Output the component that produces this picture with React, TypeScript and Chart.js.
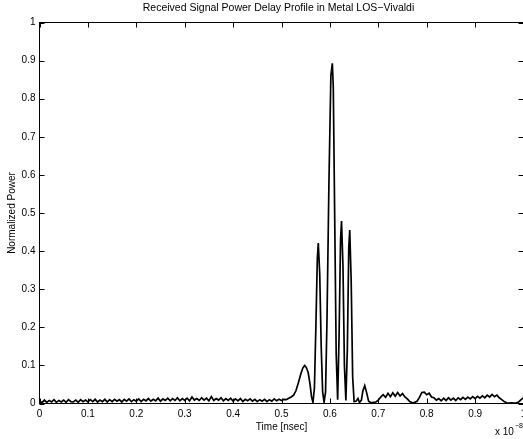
import React, { useEffect, useRef } from "react";
import { Chart, registerables } from "chart.js";

Chart.register(...registerables);

// Time in units of 1e-8 s (axis shows "x 10^-8")
const timeValues = [
  0.000, 0.005, 0.010, 0.015, 0.020, 0.025, 0.030, 0.035, 0.040, 0.045,
  0.050, 0.055, 0.060, 0.065, 0.070, 0.075, 0.080, 0.085, 0.090, 0.095,
  0.100, 0.105, 0.110, 0.115, 0.120, 0.125, 0.130, 0.135, 0.140, 0.145,
  0.150, 0.155, 0.160, 0.165, 0.170, 0.175, 0.180, 0.185, 0.190, 0.195,
  0.200, 0.205, 0.210, 0.215, 0.220, 0.225, 0.230, 0.235, 0.240, 0.245,
  0.250, 0.255, 0.260, 0.265, 0.270, 0.275, 0.280, 0.285, 0.290, 0.295,
  0.300, 0.305, 0.310, 0.315, 0.320, 0.325, 0.330, 0.335, 0.340, 0.345,
  0.350, 0.355, 0.360, 0.365, 0.370, 0.375, 0.380, 0.385, 0.390, 0.395,
  0.400, 0.405, 0.410, 0.415, 0.420, 0.425, 0.430, 0.435, 0.440, 0.445,
  0.450, 0.455, 0.460, 0.465, 0.470, 0.475, 0.480, 0.485, 0.490, 0.495,
  0.500, 0.505, 0.510, 0.515, 0.520, 0.525, 0.530, 0.535, 0.540, 0.544,
  0.548, 0.551, 0.555, 0.559, 0.562, 0.565, 0.568, 0.571, 0.574, 0.576,
  0.579, 0.582, 0.585, 0.588, 0.591, 0.594, 0.598, 0.602, 0.605, 0.607,
  0.610, 0.613, 0.616, 0.619, 0.622, 0.624, 0.627, 0.630, 0.633, 0.636,
  0.639, 0.641, 0.644, 0.647, 0.650, 0.654, 0.658, 0.661, 0.665, 0.668,
  0.672, 0.676, 0.680, 0.685, 0.690, 0.695, 0.700, 0.705,
  0.710, 0.715, 0.720, 0.725, 0.730, 0.735, 0.740, 0.745, 0.750, 0.755,
  0.760, 0.765, 0.770, 0.775, 0.780, 0.785, 0.790, 0.795, 0.800, 0.805,
  0.810, 0.815, 0.820, 0.825, 0.830, 0.835, 0.840, 0.845, 0.850, 0.855,
  0.860, 0.865, 0.870, 0.875, 0.880, 0.885, 0.890, 0.895, 0.900, 0.905,
  0.910, 0.915, 0.920, 0.925, 0.930, 0.935, 0.940, 0.945, 0.950, 0.955,
  0.960, 0.965, 0.970, 0.975, 0.980, 0.985, 0.990, 0.995, 1.000,
];

const powerValues = [
  0.007, 0.002, 0.009, 0.003, 0.008, 0.004, 0.010, 0.003, 0.008, 0.004,
  0.009, 0.003, 0.010, 0.005, 0.004, 0.009, 0.003, 0.010, 0.005, 0.009,
  0.004, 0.010, 0.005, 0.011, 0.004, 0.009, 0.005, 0.011, 0.004, 0.010,
  0.005, 0.011, 0.006, 0.010, 0.004, 0.011, 0.006, 0.012, 0.005, 0.010,
  0.006, 0.012, 0.005, 0.011, 0.007, 0.013, 0.006, 0.011, 0.007, 0.014,
  0.006, 0.012, 0.008, 0.014, 0.007, 0.013, 0.008, 0.015, 0.007, 0.013,
  0.008, 0.014, 0.007, 0.017, 0.009, 0.013, 0.008, 0.015, 0.009, 0.014,
  0.007, 0.018, 0.008, 0.013, 0.009, 0.015, 0.007, 0.013, 0.008, 0.014,
  0.006, 0.012, 0.007, 0.013, 0.005, 0.011, 0.007, 0.012, 0.006, 0.011,
  0.005, 0.010, 0.006, 0.011, 0.005, 0.010, 0.006, 0.012, 0.007, 0.011,
  0.008, 0.011, 0.010, 0.014, 0.017, 0.022, 0.034, 0.055, 0.078, 0.093,
  0.100, 0.095, 0.082, 0.050, 0.018, 0.003, 0.040, 0.200, 0.380, 0.421,
  0.340, 0.150, 0.030, 0.004, 0.030, 0.220, 0.580, 0.860, 0.893, 0.830,
  0.480, 0.130, 0.010, 0.180, 0.430, 0.479, 0.360, 0.100, 0.008, 0.140,
  0.410, 0.455, 0.320, 0.070, 0.005, 0.006, 0.013, 0.003, 0.008, 0.032,
  0.047, 0.028, 0.006, 0.002, 0.003, 0.004, 0.009, 0.017,
  0.023, 0.016, 0.027, 0.018, 0.028, 0.019, 0.029, 0.020, 0.026, 0.017,
  0.012, 0.005, 0.002, 0.003, 0.006, 0.016, 0.029, 0.030, 0.023, 0.027,
  0.017, 0.015, 0.009, 0.013, 0.007, 0.014, 0.008, 0.015, 0.009, 0.014,
  0.008, 0.015, 0.010, 0.016, 0.011, 0.017, 0.012, 0.018, 0.013, 0.019,
  0.014, 0.020, 0.015, 0.022, 0.017, 0.024, 0.018, 0.022, 0.015, 0.010,
  0.005, 0.002, 0.001, 0.002, 0.001, 0.002, 0.004, 0.010, 0.015,
];

const xTicks = [0, 0.1, 0.2, 0.3, 0.4, 0.5, 0.6, 0.7, 0.8, 0.9, 1];
const xTickLabels = ["0", "0.1", "0.2", "0.3", "0.4", "0.5", "0.6", "0.7", "0.8", "0.9", "1"];
const yTicks = [0, 0.1, 0.2, 0.3, 0.4, 0.5, 0.6, 0.7, 0.8, 0.9, 1];
const yTickLabels = ["0", "0.1", "0.2", "0.3", "0.4", "0.5", "0.6", "0.7", "0.8", "0.9", "1"];

const titleText = "Received Signal Power Delay Profile in Metal LOS\u2212Vivaldi";
const xLabelText = "Time [nsec]";
const yLabelText = "Normalized Power";
const exponentBase = "x 10";
const exponentPower = "\u22128";

const FONT = '"Liberation Sans", Arial, Helvetica, sans-serif';

const framePlugin = {
  id: "matlabFrame",
  afterDraw(chart: any) {
    const { ctx, chartArea: a, scales } = chart;
    const xs = scales.x;
    const ys = scales.y;
    ctx.save();
    ctx.strokeStyle = "#000";
    ctx.lineWidth = 1;
    ctx.strokeRect(a.left, a.top, a.right - a.left, a.bottom - a.top);
    const tl = 5;
    ctx.beginPath();
    xTicks.forEach((v) => {
      const px = Math.round(xs.getPixelForValue(v)) + 0.5;
      ctx.moveTo(px, a.bottom);
      ctx.lineTo(px, a.bottom - tl);
      ctx.moveTo(px, a.top);
      ctx.lineTo(px, a.top + tl);
    });
    yTicks.forEach((v) => {
      const py = Math.round(ys.getPixelForValue(v)) + 0.5;
      ctx.moveTo(a.left, py);
      ctx.lineTo(a.left + tl, py);
      ctx.moveTo(a.right, py);
      ctx.lineTo(a.right - tl, py);
    });
    ctx.stroke();

    ctx.fillStyle = "#000";
    ctx.font = "10px " + FONT;
    ctx.textAlign = "center";
    ctx.textBaseline = "middle";
    xTicks.forEach((v, i) => {
      ctx.fillText(xTickLabels[i], xs.getPixelForValue(v), a.bottom + 11);
    });
    ctx.textAlign = "right";
    yTicks.forEach((v, i) => {
      ctx.fillText(yTickLabels[i], a.left - 4, ys.getPixelForValue(v));
    });

    ctx.textAlign = "center";
    ctx.fillText(xLabelText, (a.left + a.right) / 2, a.bottom + 24);

    ctx.save();
    ctx.translate(12, (a.top + a.bottom) / 2);
    ctx.rotate(-Math.PI / 2);
    ctx.fillText(yLabelText, 0, 0);
    ctx.restore();

    ctx.font = "10.5px " + FONT;
    ctx.fillText(titleText, (a.left + a.right) / 2 - 3, 8);

    ctx.font = "10px " + FONT;
    ctx.textAlign = "left";
    ctx.fillText(exponentBase, 495, 432);
    ctx.font = "7px " + FONT;
    ctx.fillText(exponentPower, 515, 426);
    ctx.restore();
  },
};

export default function App() {
  const canvasRef = useRef<HTMLCanvasElement | null>(null);

  useEffect(() => {
    const canvas = canvasRef.current;
    if (!canvas) return;
    const points = timeValues.map((t, i) => ({ x: t, y: powerValues[i] }));
    const chart = new Chart(canvas, {
      type: "line",
      data: {
        datasets: [
          {
            data: points,
            borderColor: "#000",
            borderWidth: 1.7,
            pointRadius: 0,
            tension: 0,
            fill: false,
          },
        ],
      },
      options: {
        responsive: false,
        animation: false,
        devicePixelRatio: 1,
        layout: { padding: { left: 39.5, top: 22.5, right: 6.5, bottom: 35.5 } },
        plugins: {
          legend: { display: false },
          tooltip: { enabled: false },
          title: { display: false },
        },
        scales: {
          x: { type: "linear", min: 0, max: 1, display: false },
          y: { type: "linear", min: 0, max: 1, display: false },
        },
      },
      plugins: [framePlugin],
    });
    return () => chart.destroy();
  }, []);

  return (
    <div
      style={{
        position: "fixed",
        left: 0,
        top: 0,
        width: 523,
        height: 439,
        overflow: "hidden",
        background: "#fff",
      }}
    >
      <canvas
        ref={canvasRef}
        width={530}
        height={439}
        style={{ display: "block", width: 530, height: 439 }}
      />
    </div>
  );
}
